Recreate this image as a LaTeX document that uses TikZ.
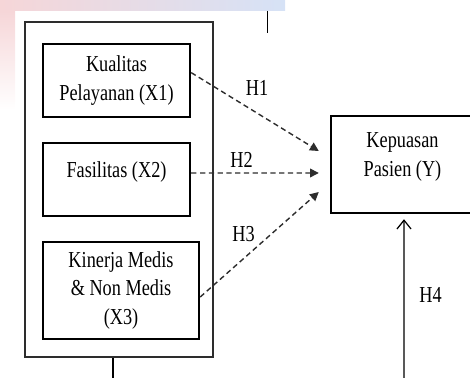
\documentclass[tikz,border=0pt]{standalone}
\usepackage{fontspec}
\setmainfont{Liberation Serif}[FakeStretch=0.8]
\usetikzlibrary{arrows.meta, positioning, calc}
\definecolor{charcoal}{RGB}{45, 45, 45}
\definecolor{washpink}{RGB}{246, 214, 216}
\definecolor{washyellow}{RGB}{246, 238, 205}
\definecolor{washblue}{RGB}{214, 226, 246}

\begin{document}
\begin{tikzpicture}[x=0.02cm, y=-0.02cm,
            var/.style={draw=black, line width=1.4pt, align=center, inner sep=0pt, font=\fontsize{13}{16.5}\selectfont},
            group/.style={draw=charcoal, line width=0.7pt, minimum width=3.76cm, minimum height=6.7cm, inner sep=0pt},
            hyp/.style={-{Triangle[length=5pt, width=5pt]}, dash pattern=on 3pt off 2pt, line width=0.8pt, charcoal},
            lbl/.style={font=\fontsize{13}{16}\selectfont, inner sep=0pt}
        ]
            % Frame and wash
            \useasboundingbox (0,0) rectangle (470,378);
            \shade[left color=washpink, middle color=washyellow, right color=washblue] (0,0) rectangle (285,11);
            \shade[top color=washpink, bottom color=white] (0,11) rectangle (15,110);

            % Variables
            \node[group] (grp) at (119,189.5) {};
            \node[var, minimum width=2.94cm, minimum height=1.46cm] (x1) at (116.5,80.5) {Kualitas\\Pelayanan (X1)};
            \node[var, minimum width=2.94cm, minimum height=1.46cm] (x2) at (116.5,179.5) {Fasilitas (X2)\\[-5pt]\mbox{}};
            \node[var, minimum width=3.12cm, minimum height=1.94cm] (x3) at (121,290.5) {Kinerja Medis\\\& Non Medis\\(X3)};

            \node[var, minimum width=2.86cm, minimum height=1.94cm] (y) at (402.5,164.5) {Kepuasan\\Pasien (Y)\\[-5pt]\mbox{}};

            % Loose ends
            \coordinate (topA) at (267.5,11);
            \coordinate (topB) at (267.5,33);
            \coordinate (grpout) at ($(grp.south)+(-6,0)$);
            \coordinate (grpend) at (113,380);
            \coordinate (h4start) at (404,380);

            % Arrows
            \draw[hyp] (x1.6) -- ($(y.west)+(-11,-13.5)$);
            \draw[hyp] (x2.east |- 0,173) -- ($(y.west)+(-11,8.5)$);
            \draw[hyp] ($(x3.east)+(0,6.5)$) -- ($(y.west)+(-11,27.5)$);

            \draw[-{Straight Barb[length=5pt, width=8pt]}, line width=0.7pt] (h4start) -- ($(y.south)+(1.5,5)$);

            \draw[line width=1.1pt] (topA) -- (topB);
            \draw[line width=0.7pt] (grpout) -- (grpend);

            % Labels
            \node[lbl] (h1) at (257,88) {H1};
            \node[lbl] (h2) at (241.5,160) {H2};
            \node[lbl] (h3) at (243.5,234) {H3};
            \node[lbl] (h4) at (430.5,295) {H4};

        \end{tikzpicture}
\end{document}
